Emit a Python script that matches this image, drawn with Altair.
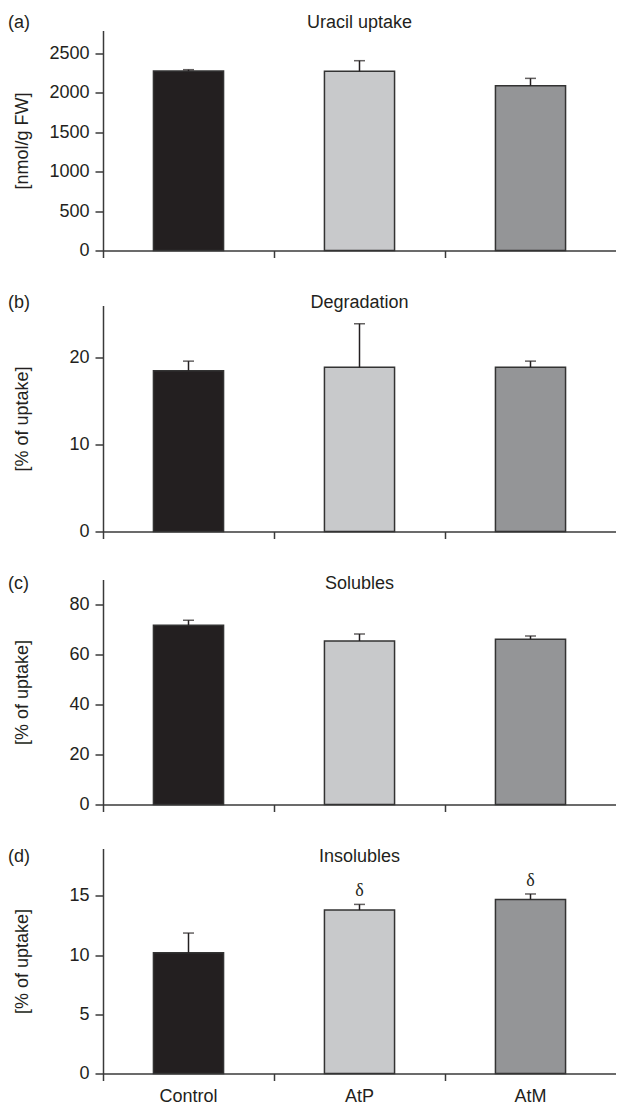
import altair as alt
import pandas as pd

groups = ["Control", "AtP", "AtM"]
fill_colors = ["#231f20", "#c8c9cb", "#949597"]

uptake_mean = [2275, 2272, 2090]
uptake_err = [18, 135, 93]
degradation_mean = [18.5, 18.9, 18.9]
degradation_err = [1.1, 5.0, 0.7]
solubles_mean = [71.7, 65.4, 66.1]
solubles_err = [2.0, 2.8, 1.3]
insolubles_mean = [10.2, 13.8, 14.7]
insolubles_err = [1.66, 0.48, 0.46]
insolubles_sig = ["", "δ", "δ"]

uptake_ticks = [0, 500, 1000, 1500, 2000, 2500]
degradation_ticks = [0, 10, 20]
solubles_ticks = [0, 20, 40, 60, 80]
insolubles_ticks = [0, 5, 10, 15]

INK = "#231f20"
AXIS = "#3a3a3a"
FONT = "Liberation Sans"
W = 513


def panel(letter, title, ylab, means, errs, dmax, ticks, height, text_y,
          last=False, sig=None):
    df = pd.DataFrame({
        "group": groups,
        "mean": means,
        "upper": [m + e for m, e in zip(means, errs)],
        "sig": sig if sig else [""] * len(groups),
    })
    xenc = alt.X(
        "group:N", sort=groups, title=None,
        scale=alt.Scale(domain=groups, paddingInner=0, paddingOuter=0),
        axis=alt.Axis(labels=last, ticks=True, tickSize=7, bandPosition=0,
                      domainColor=AXIS, domainWidth=1.5, tickColor=AXIS,
                      tickWidth=1.5, labelFontSize=18, labelColor=INK,
                      labelPadding=20.5, labelBaseline="alphabetic",
                      labelAngle=0, grid=False),
    )
    yscale = alt.Scale(domain=[0, dmax], nice=False, zero=True)
    yenc = alt.Y(
        "mean:Q", scale=yscale, title=ylab,
        axis=alt.Axis(values=ticks, tickSize=8, labelPadding=6,
                      labelFontSize=18, labelColor=INK, titleFontSize=18,
                      titleFontWeight="normal", titleColor=INK,
                      titleX=-81, titleY=height / 2, titleAngle=270,
                      titleBaseline="middle", titleAlign="center",
                      domainColor=AXIS, domainWidth=1.5, tickColor=AXIS,
                      tickWidth=1.5, grid=False, format="d"),
    )
    base = alt.Chart(df)
    bars = base.mark_bar(
        width=alt.RelativeBandSize(0.41), stroke="#333333", strokeWidth=1.5
    ).encode(
        x=xenc, y=yenc,
        color=alt.Color("group:N", scale=alt.Scale(domain=groups, range=fill_colors),
                        legend=None),
    )
    rule = base.mark_rule(color=INK, strokeWidth=1.5).encode(
        x=alt.X("group:N", sort=groups), y=alt.Y("mean:Q"), y2="upper:Q"
    )
    cap = base.mark_tick(color=INK, size=11, thickness=1.5).encode(
        x=alt.X("group:N", sort=groups), y=alt.Y("upper:Q")
    )
    lab = alt.Chart(pd.DataFrame({"label": [letter]})).mark_text(
        align="left", baseline="alphabetic", fontSize=18, font=FONT, color=INK
    ).encode(x=alt.value(-95), y=alt.value(text_y), text="label:N")
    ttl = alt.Chart(pd.DataFrame({"label": [title]})).mark_text(
        align="center", baseline="alphabetic", fontSize=18, font=FONT, color=INK
    ).encode(x=alt.value(W / 2), y=alt.value(text_y), text="label:N")
    layers = [bars, rule, cap, lab, ttl]
    if sig:
        star = base.mark_text(
            baseline="alphabetic", dy=-8, fontSize=18, font="Liberation Serif",
            color=INK
        ).encode(x=alt.X("group:N", sort=groups), y=alt.Y("upper:Q"), text="sig:N")
        layers.append(star)
    return alt.layer(*layers).properties(width=W, height=height)


pa = panel("(a)", "Uracil uptake", "[nmol/g FW]", uptake_mean, uptake_err,
           2790, uptake_ticks, 220, -2.5)
pb = panel("(b)", "Degradation", "[% of uptake]", degradation_mean,
           degradation_err, 26, degradation_ticks, 226, 2)
pc = panel("(c)", "Solubles", "[% of uptake]", solubles_mean, solubles_err,
           90, solubles_ticks, 225, 9)
pd_ = panel("(d)", "Insolubles", "[% of uptake]", insolubles_mean,
            insolubles_err, 19, insolubles_ticks, 225, 13, last=True,
            sig=insolubles_sig)

chart = alt.vconcat(pa, pb, pc, pd_, spacing=34).resolve_scale(
    x="independent", y="independent"
).properties(
    padding={"left": 8, "top": 13.5, "right": 0, "bottom": 0}
).configure(font=FONT).configure_view(stroke=None)

chart.save("out.html", embed_options={"renderer": "svg", "actions": False})
